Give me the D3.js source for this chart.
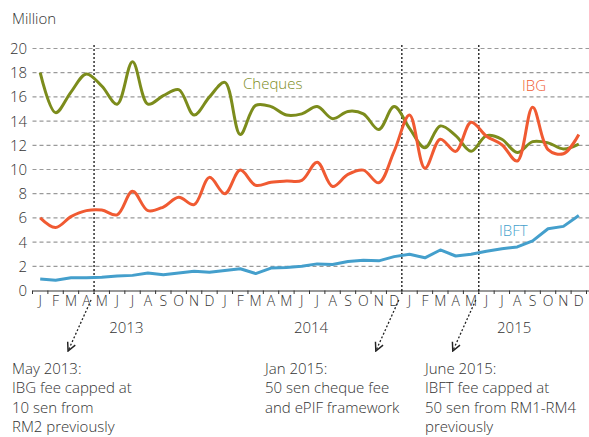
<!DOCTYPE html>
<html><head><meta charset="utf-8">
<script src="https://cdn.jsdelivr.net/npm/d3@7"></script>
<style>
html,body{margin:0;padding:0;background:#fff;}
text{font-family:"Open Sans",sans-serif;font-weight:300;fill:#333;}
</style></head>
<body><svg id="c" width="589" height="437"></svg>
<script>
const months = ["J","F","M","A","M","J","J","A","S","O","N","D","J","F","M","A","M","J","J","A","S","O","N","D","J","F","M","A","M","J","J","A","S","O","N","D"];
const years = ["2013","2014","2015"];
const yearPos = [6.1, 18.1, 31.3];
const yTicks = [0,2,4,6,8,10,12,14,16,18,20];
const cheques = [18.0,14.7,16.4,17.9,16.9,15.4,18.9,15.4,16.1,16.6,14.5,16.0,17.2,12.9,15.3,15.2,14.5,14.6,15.2,14.2,14.8,14.6,13.3,15.2,13.4,11.8,13.6,12.8,11.5,12.8,12.5,11.4,12.3,12.2,11.7,12.1];
const ibg = [6.0,5.2,6.1,6.6,6.65,6.25,8.2,6.6,6.9,7.7,7.1,9.35,8.0,9.95,8.7,8.95,9.05,9.1,10.6,8.6,9.6,9.95,8.9,11.5,14.5,10.1,12.5,11.5,13.9,12.75,12.05,10.7,15.15,11.65,11.3,12.9];
const ibft = [0.95,0.85,1.05,1.05,1.1,1.2,1.25,1.45,1.3,1.45,1.6,1.5,1.65,1.8,1.4,1.85,1.9,2.0,2.2,2.15,2.4,2.5,2.45,2.8,3.0,2.7,3.35,2.85,3.0,3.25,3.45,3.6,4.1,5.1,5.3,6.2];
const events = [4, 24, 29];
const notes = [
  ["May 2013:","IBG fee capped at","10 sen from","RM2 previously"],
  ["Jan 2015:","50 sen cheque fee","and ePIF framework"],
  ["June 2015:","IBFT fee capped at","50 sen from RM1-RM4","previously"]
];
const noteX = [12, 265, 425];
const seriesLabels = [["Cheques",243,89,"#7c8c1c"],["IBG",522,91,"#f05a32"],["IBFT",499,236,"#449fcc"]];

const svg = d3.select("#c");
const x0 = 32.5, x1 = 586.5;
const x = d3.scaleBand().domain(d3.range(36)).range([x0, x1]);
const xc = i => x(i) + x.bandwidth()/2;
const xb = i => x0 + i * x.bandwidth();
const y = d3.scaleLinear().domain([0,20]).range([290.5, 48.5]);

// grid
svg.append("g").selectAll("line").data(yTicks.filter(d=>d>0)).join("line")
  .attr("x1", x0).attr("x2", 589).attr("y1", d=>y(d)).attr("y2", d=>y(d))
  .attr("stroke","#9a9a9a").attr("stroke-width",1.2).attr("stroke-dasharray","4,3");

// y labels
svg.append("g").selectAll("text").data(yTicks).join("text")
  .attr("x", 27).attr("y", d=>y(d)+5.5).attr("text-anchor","end")
  .style("font-size","15px").text(d=>d);
svg.append("text").attr("x",12).attr("y",24).style("font-size","15px").text("Million");

// x axis
const xAxis = d3.axisBottom(x).tickSize(0).tickFormat(i=>months[i]);
const ax = svg.append("g").attr("transform",`translate(0,${y(0)})`).call(xAxis);
ax.select(".domain").remove();
ax.selectAll("text").attr("dy",0).attr("y",15.5).style("font-size","14px").style("font-family","'Open Sans',sans-serif").style("font-weight","300").attr("fill","#333");
svg.append("line").attr("x1",x0).attr("x2",589).attr("y1",y(0)+0.5).attr("y2",y(0)+0.5).attr("stroke","#333").attr("stroke-width",1.2);
svg.append("g").selectAll("line").data(d3.range(37)).join("line")
  .attr("x1",d=>xb(d)).attr("x2",d=>xb(d)).attr("y1",y(0)).attr("y2",y(0)+3.5)
  .attr("stroke","#333").attr("stroke-width",1);

svg.append("g").selectAll("text").data(years).join("text")
  .attr("x",(d,i)=>xb(yearPos[i])).attr("y",333).attr("text-anchor","middle")
  .style("font-size","15px").text(d=>d);

// event lines
svg.append("g").selectAll("line").data(events).join("line")
  .attr("x1",d=>xb(d)).attr("x2",d=>xb(d)).attr("y1",45).attr("y2",294)
  .attr("stroke","#222").attr("stroke-width",1.4).attr("stroke-dasharray","2,2");

// arrows
const defs = svg.append("defs");
defs.append("marker").attr("id","ah").attr("viewBox","0 0 10 10").attr("refX",9).attr("refY",5)
  .attr("markerWidth",8).attr("markerHeight",8).attr("orient","auto")
  .append("path").attr("d","M1,1 L9,5 L1,9").attr("fill","none").attr("stroke","#222").attr("stroke-width",1.4);
svg.append("g").selectAll("line").data(events).join("line")
  .attr("x1",d=>xb(d)-3).attr("y1",300).attr("x2",d=>xb(d)-26).attr("y2",351)
  .attr("stroke","#222").attr("stroke-width",1.3).attr("stroke-dasharray","2,2")
  .attr("marker-end","url(#ah)");

// notes
notes.forEach((lines,k)=>{
  svg.append("g").selectAll("text").data(lines).join("text")
    .attr("x",noteX[k]).attr("y",(d,i)=>374+i*19.3).style("font-size","15px").text(d=>d);
});

// series
const smooth = d3.line().x((d,i)=>xc(i)).y(d=>y(d)).curve(d3.curveCatmullRom.alpha(0.5));
const straight = d3.line().x((d,i)=>xc(i)).y(d=>y(d));
svg.append("path").datum(ibft).attr("d",straight).attr("fill","none").attr("stroke","#449fcc").attr("stroke-width",3).attr("stroke-linejoin","round");
svg.append("path").datum(cheques).attr("d",smooth).attr("fill","none").attr("stroke","#7c8c1c").attr("stroke-width",3);
svg.append("path").datum(ibg).attr("d",smooth).attr("fill","none").attr("stroke","#f05a32").attr("stroke-width",3);

svg.append("g").selectAll("text").data(seriesLabels).join("text")
  .attr("x",d=>d[1]).attr("y",d=>d[2]).style("font-size","15px").style("fill",d=>d[3]).text(d=>d[0]);
</script></body></html>
